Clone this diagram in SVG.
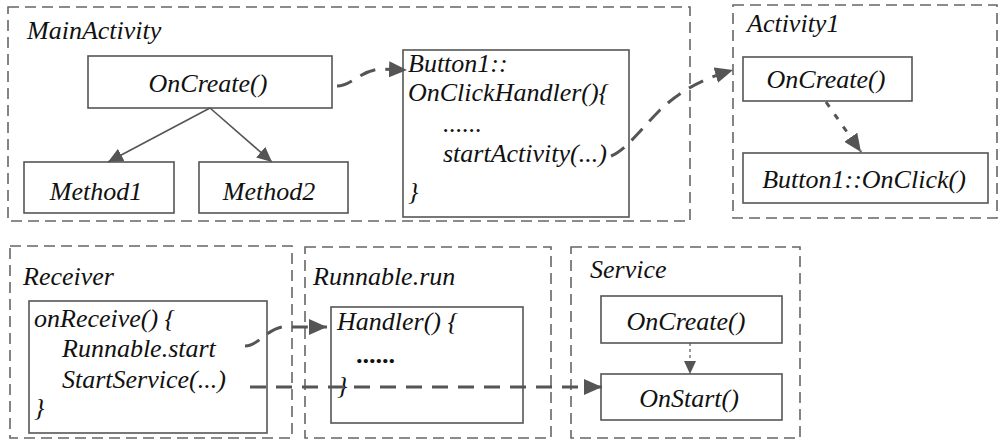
<svg xmlns="http://www.w3.org/2000/svg" width="1001" height="441" viewBox="0 0 1001 441" font-family="Liberation Serif, DejaVu Serif, serif">
<defs>
<style>
text{font-style:italic;font-size:26px;fill:#111}
.c{text-anchor:middle}
.grp{fill:none;stroke:#666;stroke-width:1.6;stroke-dasharray:11 6}
.box{fill:#fff;stroke:#555;stroke-width:1.6}
.solid{fill:none;stroke:#555;stroke-width:1.6}
.dash{fill:none;stroke:#555;stroke-width:3;stroke-dasharray:16 10}
.dot{fill:none;stroke:#555;stroke-width:3;stroke-dasharray:6 9}
.thin{fill:none;stroke:#555;stroke-width:1.2;stroke-dasharray:3 3}
</style>
<marker id="big" markerUnits="userSpaceOnUse" markerWidth="20" markerHeight="16" refX="18" refY="8" orient="auto"><path d="M0,0 L18,8 L0,16 z" fill="#555"/></marker>
<marker id="mid" markerUnits="userSpaceOnUse" markerWidth="16" markerHeight="14" refX="15" refY="7" orient="auto"><path d="M0,0 L15,7 L0,14 z" fill="#555"/></marker>
<marker id="sm" markerUnits="userSpaceOnUse" markerWidth="14" markerHeight="12" refX="13" refY="6" orient="auto"><path d="M0,0 L13,6 L0,12 z" fill="#555"/></marker>
</defs>
<rect width="1001" height="441" fill="#fff"/>

<g id="MainActivity">
<rect class="grp" x="8" y="7" width="682" height="214"/>
<text x="27" y="39">MainActivity</text>
</g>
<g id="MainOnCreate">
<rect class="box" x="88" y="56" width="244" height="52"/>
<text class="c" x="208" y="92">OnCreate()</text>
</g>
<g id="Method1">
<rect class="box" x="24" y="162" width="150" height="51"/>
<text class="c" x="96" y="200">Method1</text>
</g>
<g id="Method2">
<rect class="box" x="199" y="162" width="149" height="51"/>
<text class="c" x="269" y="200">Method2</text>
</g>
<g id="Button1Handler">
<rect class="box" x="403" y="50" width="226" height="167"/>
<text x="408" y="72">Button1::</text>
<text x="408" y="101">OnClickHandler(){</text>
<text x="443" y="132">......</text>
<text x="443" y="162">startActivity(...)</text>
<text x="408" y="200">}</text>
</g>

<g id="Activity1">
<rect class="grp" x="733" y="5" width="264" height="213"/>
<text x="747" y="32">Activity1</text>
</g>
<g id="A1OnCreate">
<rect class="box" x="743" y="57" width="169" height="44"/>
<text class="c" x="826" y="88">OnCreate()</text>
</g>
<g id="A1OnClick">
<rect class="box" x="743" y="153" width="245" height="50"/>
<text class="c" x="864" y="188">Button1::OnClick()</text>
</g>

<g id="Receiver">
<rect class="grp" x="10" y="246" width="282" height="192"/>
<text x="23" y="285">Receiver</text>
</g>
<g id="OnReceive">
<rect class="box" x="29" y="301" width="238" height="132"/>
<text x="34" y="327">onReceive() {</text>
<text x="62" y="357">Runnable.start</text>
<text x="62" y="388">StartService(...)</text>
<text x="34" y="416">}</text>
</g>

<g id="RunnableRun">
<rect class="grp" x="305" y="247" width="246" height="191"/>
<text x="313" y="285">Runnable.run</text>
</g>
<g id="Handler">
<rect class="box" x="331" y="307" width="192" height="116"/>
<text x="337" y="330">Handler() {</text>
<text x="357" y="363" font-weight="bold">......</text>
<text x="337" y="394">}</text>
</g>

<g id="Service">
<rect class="grp" x="571" y="247" width="229" height="191"/>
<text x="590" y="278">Service</text>
</g>
<g id="SOnCreate">
<rect class="box" x="601" y="296" width="181" height="47"/>
<text class="c" x="686" y="330">OnCreate()</text>
</g>
<g id="SOnStart">
<rect class="box" x="601" y="374" width="181" height="46"/>
<text class="c" x="689" y="407">OnStart()</text>
</g>

<g id="connectors">
<line class="solid" x1="210" y1="108" x2="108" y2="162" marker-end="url(#mid)"/>
<line class="solid" x1="210" y1="108" x2="272" y2="162" marker-end="url(#mid)"/>
<path class="dash" d="M337,86 C352,86 360,70 382,69 L407,70" marker-end="url(#big)"/>
<path class="dash" d="M611,156 C626,150 642,128 660,110 C680,91 702,79 733,70" marker-end="url(#big)"/>
<line class="dot" x1="826" y1="102" x2="861" y2="152" marker-end="url(#big)"/>
<path class="dash" d="M245,346 C258,346 266,330 282,327 L327,327" marker-end="url(#big)"/>
<line class="dash" x1="250" y1="387" x2="602" y2="387" marker-end="url(#big)"/>
<line class="thin" x1="690" y1="343" x2="690" y2="374" marker-end="url(#sm)"/>
</g>
</svg>
